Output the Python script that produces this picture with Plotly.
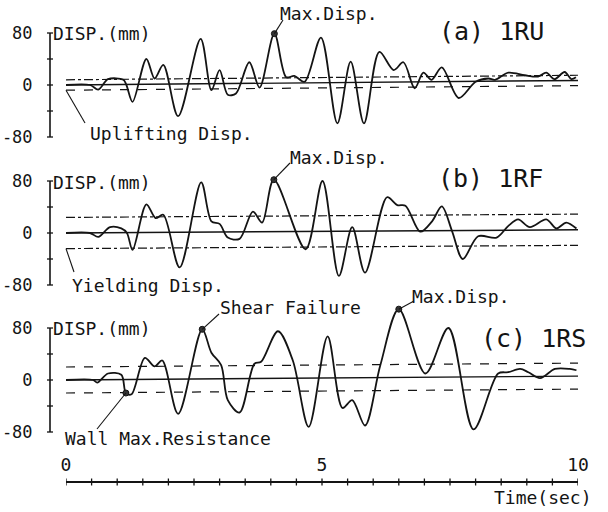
import plotly.graph_objects as go

# ---------------- data ----------------
time_ticks = [i * 0.5 for i in range(21)]
time_labels = ["0" if v == 0 else "5" if v == 5 else "10" if v == 10 else "" for v in time_ticks]
disp_ticks = [-80, -40, 0, 40, 80]
disp_labels = ["-80", "", "0", "", "80"]

t_a = [0, 0.47, 0.63, 0.82, 1.12, 1.18, 1.30, 1.57, 1.73, 1.90, 2.19, 2.63, 2.84, 3.00, 3.16,
       3.32, 3.58, 3.78, 4.07, 4.30, 4.46, 4.66, 4.98, 5.30, 5.56, 5.82, 6.12, 6.40, 6.59, 6.81,
       6.98, 7.14, 7.34, 7.67, 8.00, 8.25, 8.38, 8.64, 8.96, 9.22, 9.38, 9.54, 9.74, 9.87, 9.96]
v_a = [0, 0, -7, 9, 8, 0, -26, 40, 10, 31, -48, 71, -8, 23, -15,
       -13, 35, -4, 79, 12, 14, 5, 73, -59, 36, -59, 51, 23, 35, -5,
       19, 8, 27, -20, 5, 10, 8, 19, 15, 13, 19, 9, 20, 9, 12]

t_b = [0, 0.47, 0.63, 0.86, 1.08, 1.19, 1.30, 1.57, 1.75, 1.90, 2.22, 2.64, 2.84, 3.00, 3.16,
       3.39, 3.65, 3.83, 4.06, 4.68, 5.01, 5.33, 5.59, 5.84, 6.27, 6.47, 6.63, 6.92, 7.15, 7.34,
       7.54, 7.75, 8.05, 8.41, 8.64, 8.83, 9.06, 9.38, 9.58, 9.77, 9.97]
v_b = [0, 0, -6, 9, 7, 0, -26, 44, 23, 28, -53, 78, 18, 14, -7,
       -9, 33, 16, 82, -25, 80, -66, 9, -61, 55, 43, 42, 2, 18, 41,
       3, -40, -5, -7, 11, 21, 9, 21, 7, 16, 7]

t_c = [0, 0.53, 0.61, 0.82, 1.08, 1.17, 1.28, 1.54, 1.73, 1.88, 2.19, 2.66, 2.84, 3.03, 3.16,
       3.39, 3.68, 3.81, 4.14, 4.43, 4.74, 5.11, 5.40, 5.59, 5.84, 6.14, 6.50, 7.02, 7.47, 7.96,
       8.44, 8.64, 8.87, 9.03, 9.26, 9.55, 9.84, 9.97]
v_c = [0, 0, -4, 10, 8, -20, -22, 34, 21, 30, -52, 78, 42, 23, -31,
       -50, 25, 28, 75, 30, -72, 67, -43, -31, -70, 23, 109, 10, 80, -76,
       10, 12, 17, 12, 3, 17, 17, 15]

# reference lines: zero line drift (start, end) and band half-width
ref_a = [0, 7]; band_a = 8      # Uplifting Disp.
ref_b = [0, 5]; band_b = 24     # Yielding Disp.
ref_c = [0, 6]; band_c = 20

# marked points (times of marked events)
mark_a = [4.07]                 # Max.Disp.
mark_b = [4.06]                 # Max.Disp.
mark_c = [1.17, 2.66, 6.50]     # Wall Max.Resistance, Shear Failure, Max.Disp.

# ---------------- layout geometry ----------------
W, H = 608, 512
ML, MR, MT, MB = 50, 30, 0, 0
PW, PH = W - ML - MR, H - MT - MB
X0PX, X1PX = 66, 578
ZERO = {"a": 85, "b": 233, "c": 380}
K = 0.65                       # px per mm
YR = [-100, 120]
AXIS_Y = 482
FONT = "DejaVu Sans Mono"
INK = "#141414"


def px2x(px):
    return (px - ML) / PW


def py2y(py):
    return 1 - (py - MT) / PH


def t2px(t):
    return X0PX + t * (X1PX - X0PX) / 10.0


def v2py(p, v):
    return ZERO[p] - v * K


def domain(p):
    top = ZERO[p] - YR[1] * K
    bot = ZERO[p] - YR[0] * K
    return [py2y(bot), py2y(top)]


fig = go.Figure()

panels = [("a", "y", t_a, v_a, ref_a, band_a, mark_a, ("dashdot", "dash")),
          ("b", "y2", t_b, v_b, ref_b, band_b, mark_b, ("dashdot", "dashdot")),
          ("c", "y3", t_c, v_c, ref_c, band_c, mark_c, ("dash", "dash"))]

for p, yref, tt, vv, ref, band, marks, dashes in panels:
    fig.add_trace(go.Scatter(x=[0, 10], y=ref, mode="lines", yaxis=yref,
                             line=dict(color=INK, width=1.4), hoverinfo="skip"))
    fig.add_trace(go.Scatter(x=[0, 10], y=[r + band for r in ref], mode="lines", yaxis=yref,
                             line=dict(color=INK, width=1.2, dash=dashes[0]), hoverinfo="skip"))
    fig.add_trace(go.Scatter(x=[0, 10], y=[r - band for r in ref], mode="lines", yaxis=yref,
                             line=dict(color=INK, width=1.2, dash=dashes[1]), hoverinfo="skip"))
    fig.add_trace(go.Scatter(x=tt, y=vv, mode="lines", yaxis=yref,
                             line=dict(color=INK, width=1.8, shape="spline", smoothing=0.9)))
    lookup = dict(zip(tt, vv))
    fig.add_trace(go.Scatter(x=marks, y=[lookup[m] for m in marks], mode="markers", yaxis=yref,
                             marker=dict(symbol="circle", size=6, color="#333",
                                         line=dict(color=INK, width=1)), cliponaxis=False))

shapes = []
# y axis lines with crossing ticks
for p, yr in (("a", "y"), ("b", "y2"), ("c", "y3")):
    shapes.append(dict(type="line", xref="paper", yref=yr, x0=0, x1=0, y0=-80, y1=80,
                       line=dict(color=INK, width=1.6)))
    for v in disp_ticks:
        shapes.append(dict(type="line", xref="paper", yref=yr, x0=px2x(47), x1=px2x(53),
                           y0=v, y1=v, line=dict(color=INK, width=1.3)))
# time axis crossing ticks
for t in time_ticks:
    shapes.append(dict(type="line", xref="x", yref="paper", x0=t, x1=t,
                       y0=py2y(AXIS_Y - 3.5), y1=py2y(AXIS_Y + 3.5),
                       line=dict(color=INK, width=1.3)))


def leader(x0, y0, x1, y1):
    shapes.append(dict(type="line", xref="paper", yref="paper",
                       x0=px2x(x0), y0=py2y(y0), x1=px2x(x1), y1=py2y(y1),
                       line=dict(color=INK, width=1.1)))


la = dict(zip(t_a, v_a)); lb = dict(zip(t_b, v_b)); lc = dict(zip(t_c, v_c))
leader(t2px(mark_a[0]), v2py("a", la[mark_a[0]]), 283, 20)
leader(t2px(0), v2py("a", ref_a[0] - band_a), 85, 123)
leader(t2px(mark_b[0]), v2py("b", lb[mark_b[0]]), 290, 163)
leader(t2px(0), v2py("b", ref_b[0] - band_b), 74, 272)
leader(t2px(mark_c[2]), v2py("c", lc[mark_c[2]]), 414, 301)
leader(t2px(mark_c[1]), v2py("c", lc[mark_c[1]]), 219, 314)
leader(t2px(mark_c[0]), v2py("c", lc[mark_c[0]]), 97, 429)

annots = []


def label(text, px, py, size=18, anchor="left"):
    annots.append(dict(text=text, xref="paper", yref="paper", x=px2x(px), y=py2y(py),
                       xanchor=anchor, yanchor="middle", showarrow=False,
                       font=dict(family=FONT, size=size, color=INK)))


label("DISP.(mm)", 51, 33)
label("DISP.(mm)", 51, 182)
label("DISP.(mm)", 51, 328)
label("(a) 1RU", 437, 31, 25)
label("(b) 1RF", 436, 178, 25)
label("(c) 1RS", 479, 338, 25)
label("Max.Disp.", 278, 13)
label("Max.Disp.", 288, 157)
label("Max.Disp.", 410, 296)
label("Shear Failure", 218, 307)
label("Uplifting Disp.", 88, 133)
label("Yielding Disp.", 70, 285)
label("Wall Max.Resistance", 63, 438)
label("Time(sec)", 594, 497, anchor="right")

yax = dict(range=YR, showgrid=False, zeroline=False, showline=False, anchor="free", position=0,
           tickmode="array", tickvals=disp_ticks, ticktext=disp_labels, ticks="outside",
           ticklen=14, tickcolor="rgba(0,0,0,0)", tickfont=dict(family=FONT, size=17, color=INK))

fig.update_layout(
    width=W, height=H, margin=dict(l=ML, r=MR, t=MT, b=MB),
    paper_bgcolor="white", plot_bgcolor="rgba(0,0,0,0)", showlegend=False,
    xaxis=dict(range=[0, 10], domain=[px2x(X0PX), 1], anchor="free", position=py2y(AXIS_Y),
               side="top", showgrid=False, zeroline=False, showline=True, linecolor=INK,
               linewidth=1.6, tickmode="array", tickvals=time_ticks, ticktext=time_labels,
               ticks="outside", ticklen=3, tickcolor="rgba(0,0,0,0)",
               tickfont=dict(family=FONT, size=18, color=INK)),
    yaxis=dict(yax, domain=domain("a")),
    yaxis2=dict(yax, domain=domain("b")),
    yaxis3=dict(yax, domain=domain("c")),
    shapes=shapes, annotations=annots,
)

fig.write_html("out.html", config={"displayModeBar": False},
               post_script="document.body.style.margin='0';document.body.style.padding='0';")
